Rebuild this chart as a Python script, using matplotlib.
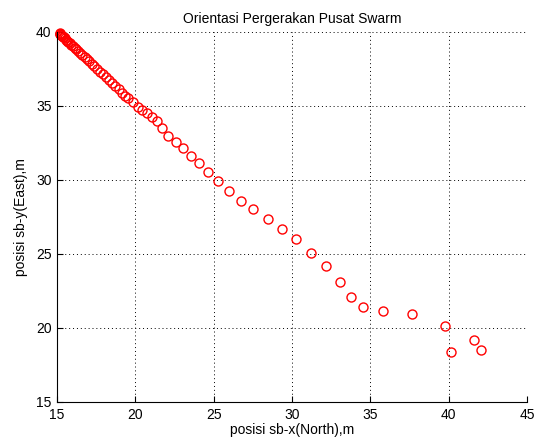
import matplotlib
matplotlib.use("Agg")
import matplotlib.pyplot as plt

plt.rcParams['font.family'] = ['Liberation Sans', 'DejaVu Sans']

# swarm centre positions per iteration (North, East), dense tail near the end point
x_north = [15.16, 15.18, 15.20, 15.24, 15.27, 15.32, 15.37, 15.43, 15.49, 15.56,
           15.64, 15.72, 15.81, 15.91, 16.01, 16.12, 16.23, 16.35, 16.48, 16.61,
           16.76, 16.90, 17.06, 17.22, 17.38, 17.55, 17.73, 17.92, 18.11, 18.31,
           18.51, 18.72, 18.94, 19.16, 19.37, 19.55, 19.87, 20.15, 20.41, 20.73,
           21.04, 21.36, 21.68, 22.10, 22.58, 23.06, 23.53, 24.08, 24.66, 25.26,
           25.98, 26.73, 27.53, 28.45, 29.34, 30.24, 31.21, 32.17, 33.08, 33.78,
           34.53, 35.78, 37.64, 39.75, 40.13, 41.64, 42.08]
y_east = [39.87, 39.85, 39.82, 39.79, 39.75, 39.71, 39.66, 39.60, 39.53, 39.46,
          39.39, 39.31, 39.22, 39.12, 39.02, 38.91, 38.80, 38.68, 38.55, 38.42,
          38.28, 38.13, 37.98, 37.82, 37.65, 37.48, 37.30, 37.12, 36.93, 36.73,
          36.53, 36.32, 36.10, 35.88, 35.67, 35.49, 35.22, 34.93, 34.70, 34.48,
          34.21, 33.96, 33.52, 32.95, 32.54, 32.12, 31.62, 31.11, 30.50, 29.91,
          29.24, 28.58, 28.00, 27.35, 26.67, 25.98, 25.07, 24.17, 23.10, 22.08,
          21.41, 21.12, 20.92, 20.11, 18.35, 19.16, 18.49]

x_ticks = [15, 20, 25, 30, 35, 40, 45]
y_ticks = [15, 20, 25, 30, 35, 40]

fig = plt.figure(figsize=(5.43, 4.44), dpi=100)
ax = fig.add_axes([0.105, 0.0946, 0.8655, 0.8344])

ax.plot(x_north, y_east, 'o', color='red', markerfacecolor='none',
        markersize=6.5, markeredgewidth=1.0, clip_on=False)

ax.set_xlim(15, 45)
ax.set_ylim(15, 40)
ax.set_xticks(x_ticks)
ax.set_yticks(y_ticks)

ax.grid(True, color='black', linestyle=(0, (1, 3)), linewidth=0.7)
ax.spines['top'].set_visible(False)
ax.spines['right'].set_visible(False)
ax.spines['left'].set_linewidth(0.8)
ax.spines['bottom'].set_linewidth(0.8)
ax.tick_params(direction='in', length=4, width=0.8, labelsize=10)
ax.tick_params(axis='x', pad=4)
ax.tick_params(axis='y', pad=4)

ax.set_title('Orientasi Pergerakan Pusat Swarm', fontsize=10, pad=6)
ax.set_xlabel('posisi sb-x(North),m', fontsize=10, labelpad=1)
ax.set_ylabel('posisi sb-y(East),m', fontsize=10, labelpad=6)

fig.savefig('out.png', dpi=100)
